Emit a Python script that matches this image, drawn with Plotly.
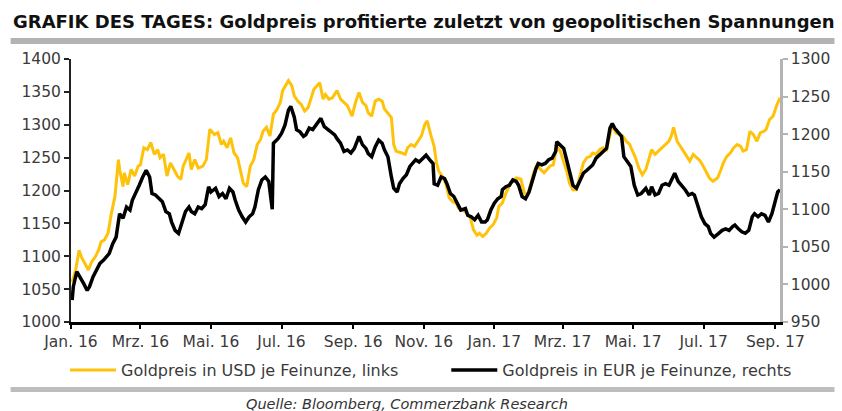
import plotly.graph_objects as go

# ---------------- data ----------------
usd_dates = [
    "2016-01-02","2016-01-05","2016-01-08","2016-01-10","2016-01-13","2016-01-16","2016-01-19","2016-01-22",
    "2016-01-25","2016-01-27","2016-01-30","2016-02-02","2016-02-05","2016-02-08","2016-02-11","2016-02-12",
    "2016-02-15","2016-02-16","2016-02-19","2016-02-22","2016-02-25","2016-02-28","2016-03-01","2016-03-04",
    "2016-03-07","2016-03-10","2016-03-13","2016-03-16","2016-03-18","2016-03-21","2016-03-24","2016-03-27",
    "2016-03-30","2016-04-02","2016-04-05","2016-04-07","2016-04-12","2016-04-14","2016-04-17","2016-04-20",
    "2016-04-24","2016-04-27","2016-04-30","2016-05-04","2016-05-07","2016-05-10","2016-05-12","2016-05-15",
    "2016-05-18","2016-05-21","2016-05-24","2016-05-27","2016-05-29","2016-06-01","2016-06-04","2016-06-07",
    "2016-06-10","2016-06-13","2016-06-15","2016-06-18","2016-06-21","2016-06-24","2016-06-27","2016-06-30",
    "2016-07-02","2016-07-07","2016-07-10","2016-07-12","2016-07-15","2016-07-18","2016-07-21","2016-07-24",
    "2016-07-27","2016-07-29","2016-08-03","2016-08-06","2016-08-08","2016-08-11","2016-08-14","2016-08-18",
    "2016-08-21","2016-08-24","2016-08-27","2016-08-31","2016-09-03","2016-09-06","2016-09-09","2016-09-12",
    "2016-09-14","2016-09-17","2016-09-20","2016-09-23","2016-09-26","2016-09-28","2016-10-01","2016-10-04",
    "2016-10-06","2016-10-08","2016-10-13","2016-10-16","2016-10-18","2016-10-21","2016-10-24","2016-10-27",
    "2016-10-30","2016-11-02","2016-11-04","2016-11-07","2016-11-10","2016-11-12","2016-11-14","2016-11-17",
    "2016-11-20","2016-11-23","2016-11-26","2016-11-29","2016-12-01","2016-12-04","2016-12-08","2016-12-11",
    "2016-12-14","2016-12-17","2016-12-19","2016-12-22","2016-12-25","2016-12-28","2016-12-31","2017-01-03",
    "2017-01-05","2017-01-08","2017-01-11","2017-01-15","2017-01-20","2017-01-24","2017-01-27","2017-01-30",
    "2017-02-01","2017-02-04","2017-02-07","2017-02-10","2017-02-13","2017-02-16","2017-02-18","2017-02-21",
    "2017-02-24","2017-02-27","2017-03-02","2017-03-05","2017-03-07","2017-03-10","2017-03-13","2017-03-16",
    "2017-03-19","2017-03-22","2017-03-25","2017-03-27","2017-03-30","2017-04-02","2017-04-05","2017-04-08",
    "2017-04-11","2017-04-13","2017-04-16","2017-04-19","2017-04-22","2017-04-25","2017-04-28","2017-04-30",
    "2017-05-03","2017-05-06","2017-05-09","2017-05-12","2017-05-15","2017-05-17","2017-05-20","2017-05-23",
    "2017-05-26","2017-05-29","2017-06-01","2017-06-03","2017-06-05","2017-06-08","2017-06-11","2017-06-13",
    "2017-06-16","2017-06-19","2017-06-22","2017-06-25","2017-06-28","2017-06-30","2017-07-03","2017-07-06",
    "2017-07-09","2017-07-13","2017-07-16","2017-07-18","2017-07-21","2017-07-24","2017-07-27","2017-07-30",
    "2017-08-02","2017-08-04","2017-08-07","2017-08-10","2017-08-13","2017-08-16","2017-08-19","2017-08-22",
    "2017-08-24","2017-08-27","2017-08-30","2017-09-02","2017-09-05",
]
usd_values = [
    1061,1079,1109,1099,1089,1079,1092,1099,
    1110,1122,1125,1135,1166,1191,1247,1232,
    1206,1227,1209,1232,1222,1237,1239,1265,
    1262,1273,1255,1262,1250,1255,1222,1242,
    1232,1222,1217,1237,1257,1232,1247,1234,
    1237,1247,1293,1285,1288,1270,1275,1265,
    1280,1257,1250,1227,1211,1206,1237,1247,
    1270,1278,1290,1296,1283,1316,1323,1334,
    1352,1367,1359,1344,1336,1331,1321,1326,
    1341,1354,1364,1339,1346,1339,1341,1352,
    1339,1334,1329,1313,1334,1349,1334,1329,
    1318,1313,1336,1339,1336,1324,1318,1311,
    1270,1260,1257,1255,1265,1270,1267,1275,
    1283,1301,1306,1285,1267,1242,1229,1222,
    1211,1189,1183,1181,1173,1171,1166,1160,
    1140,1132,1135,1130,1135,1143,1148,1158,
    1176,1181,1196,1211,1219,1217,1196,1194,
    1209,1227,1239,1232,1227,1234,1237,1239,
    1267,1260,1245,1227,1211,1201,1201,1222,
    1242,1250,1252,1257,1255,1262,1265,1262,
    1283,1301,1288,1285,1283,1275,1270,1262,
    1250,1234,1224,1232,1252,1262,1255,1260,
    1265,1270,1275,1283,1296,1275,1267,1260,
    1252,1245,1255,1250,1245,1239,1229,1219,
    1214,1219,1232,1242,1252,1257,1265,1270,
    1267,1260,1262,1290,1285,1275,1288,1290,
    1293,1308,1313,1329,1341,
]

eur_dates = [
    "2016-01-02","2016-01-03","2016-01-06","2016-01-09","2016-01-12","2016-01-15","2016-01-17","2016-01-20",
    "2016-01-23","2016-01-26","2016-01-29","2016-02-01","2016-02-03","2016-02-06","2016-02-09","2016-02-12",
    "2016-02-15","2016-02-18","2016-02-21","2016-02-23","2016-02-26","2016-02-29","2016-03-03","2016-03-06",
    "2016-03-09","2016-03-11","2016-03-14","2016-03-17","2016-03-20","2016-03-23","2016-03-26","2016-03-28",
    "2016-03-31","2016-04-03","2016-04-06","2016-04-09","2016-04-12","2016-04-14","2016-04-17","2016-04-20",
    "2016-04-23","2016-04-26","2016-04-29","2016-05-01","2016-05-05","2016-05-08","2016-05-11","2016-05-14",
    "2016-05-17","2016-05-20","2016-05-22","2016-05-25","2016-05-28","2016-05-31","2016-06-03","2016-06-06",
    "2016-06-08","2016-06-11","2016-06-14","2016-06-17","2016-06-20","2016-06-22","2016-06-23","2016-06-24",
    "2016-06-28","2016-07-01","2016-07-04","2016-07-07","2016-07-09","2016-07-12","2016-07-14","2016-07-17",
    "2016-07-20","2016-07-22","2016-07-25","2016-07-28","2016-07-31","2016-08-04","2016-08-07","2016-08-10",
    "2016-08-13","2016-08-16","2016-08-18","2016-08-21","2016-08-24","2016-08-27","2016-08-30","2016-09-02",
    "2016-09-06","2016-09-09","2016-09-12","2016-09-14","2016-09-17","2016-09-20","2016-09-23","2016-09-26",
    "2016-09-28","2016-10-01","2016-10-04","2016-10-06","2016-10-09","2016-10-11","2016-10-14","2016-10-17",
    "2016-10-20","2016-10-23","2016-10-25","2016-10-28","2016-10-31","2016-11-03","2016-11-06","2016-11-09",
    "2016-11-10","2016-11-13","2016-11-16","2016-11-19","2016-11-21","2016-11-24","2016-11-27","2016-11-30",
    "2016-12-03","2016-12-07","2016-12-09","2016-12-12","2016-12-15","2016-12-18","2016-12-21","2016-12-24",
    "2016-12-26","2016-12-29","2017-01-01","2017-01-04","2017-01-07","2017-01-08","2017-01-11","2017-01-14",
    "2017-01-17","2017-01-20","2017-01-22","2017-01-25","2017-01-28","2017-01-31","2017-02-03","2017-02-06",
    "2017-02-08","2017-02-11","2017-02-14","2017-02-17","2017-02-20","2017-02-23","2017-02-24","2017-02-27",
    "2017-03-02","2017-03-05","2017-03-07","2017-03-10","2017-03-13","2017-03-16","2017-03-19","2017-03-22",
    "2017-03-25","2017-03-27","2017-03-30","2017-04-02","2017-04-05","2017-04-08","2017-04-11","2017-04-13",
    "2017-04-15","2017-04-18","2017-04-21","2017-04-23","2017-04-26","2017-04-29","2017-05-02","2017-05-05",
    "2017-05-08","2017-05-12","2017-05-15","2017-05-17","2017-05-20","2017-05-23","2017-05-26","2017-05-29",
    "2017-06-01","2017-06-03","2017-06-06","2017-06-09","2017-06-12","2017-06-15","2017-06-18","2017-06-21",
    "2017-06-23","2017-06-26","2017-06-29","2017-07-02","2017-07-05","2017-07-07","2017-07-10","2017-07-14",
    "2017-07-17","2017-07-20","2017-07-23","2017-07-26","2017-07-28","2017-07-31","2017-08-03","2017-08-06",
    "2017-08-09","2017-08-12","2017-08-14","2017-08-17","2017-08-20","2017-08-23","2017-08-26","2017-08-29",
    "2017-09-01","2017-09-03","2017-09-05",
]
eur_values = [
    979,997,1017,1010,1001,992,997,1010,
    1019,1028,1032,1037,1041,1054,1063,1094,
    1088,1103,1099,1112,1121,1132,1143,1152,
    1143,1121,1119,1114,1110,1097,1094,1083,
    1072,1068,1081,1097,1103,1097,1094,1103,
    1101,1106,1130,1123,1128,1117,1121,1114,
    1128,1123,1112,1099,1090,1083,1090,1094,
    1103,1126,1139,1143,1137,1115,1100,1188,
    1194,1201,1212,1232,1237,1223,1206,1203,
    1197,1199,1208,1206,1212,1221,1210,1206,
    1203,1199,1194,1188,1177,1179,1175,1181,
    1197,1186,1181,1174,1170,1183,1192,1188,
    1179,1170,1143,1128,1123,1134,1141,1146,
    1157,1163,1166,1163,1168,1172,1166,1161,
    1134,1132,1143,1141,1134,1121,1117,1108,
    1099,1101,1092,1090,1086,1092,1083,1083,
    1086,1099,1108,1114,1117,1126,1130,1132,
    1139,1137,1132,1117,1114,1123,1139,1154,
    1161,1159,1161,1166,1168,1177,1190,1186,
    1181,1163,1152,1132,1128,1139,1148,1152,
    1157,1159,1168,1172,1177,1181,1208,1214,
    1208,1203,1197,1170,1163,1157,1132,1119,
    1121,1128,1119,1130,1119,1121,1132,1134,
    1132,1139,1148,1137,1132,1126,1119,1121,
    1119,1103,1090,1081,1077,1068,1063,1068,
    1072,1074,1072,1077,1079,1074,1070,1068,
    1072,1090,1094,1090,1094,1092,1083,1094,
    1112,1123,1126,
]

tick_dates = ["2016-01-01","2016-03-01","2016-05-01","2016-07-01","2016-09-01","2016-11-01",
              "2017-01-01","2017-03-01","2017-05-01","2017-07-01","2017-09-01"]
tick_labels = ["Jan. 16","Mrz. 16","Mai. 16","Jul. 16","Sep. 16","Nov. 16",
               "Jan. 17","Mrz. 17","Mai. 17","Jul. 17","Sep. 17"]

title_text = "GRAFIK DES TAGES: Goldpreis profitierte zuletzt von geopolitischen Spannungen"
source_text = "Quelle: Bloomberg, Commerzbank Research"
usd_name = "Goldpreis in USD je Feinunze, links"
eur_name = "Goldpreis in EUR je Feinunze, rechts"

# ---------------- layout helpers ----------------
W, H = 842, 411
ML, MR, MT, MB = 71, 55, 59, 89
PW, PH = W - ML - MR, H - MT - MB


def px(x):
    return (x - ML) / PW


def py(y):
    return (H - MB - y) / PH


TICK_FONT = dict(family="DejaVu Sans", size=15.5, color="#3a3a3a")
LEG_FONT = dict(family="DejaVu Sans", size=16, color="#3a3a3a")
GOLD = "#FFC20A"

fig = go.Figure()
fig.add_trace(go.Scatter(x=usd_dates, y=usd_values, name=usd_name, mode="lines",
                         line=dict(color=GOLD, width=3), yaxis="y", legend="legend"))
fig.add_trace(go.Scatter(x=eur_dates, y=eur_values, name=eur_name, mode="lines",
                         line=dict(color="#000000", width=3.5), yaxis="y2", legend="legend2"))

fig.update_layout(
    width=W, height=H,
    margin=dict(l=ML, r=MR, t=MT, b=MB),
    paper_bgcolor="white", plot_bgcolor="white",
    xaxis=dict(type="date", range=["2016-01-01", "2017-09-05"],
               tickvals=tick_dates, ticktext=tick_labels,
               ticks="outside", ticklen=4, tickwidth=2, tickcolor="#000",
               showline=True, linecolor="#000", linewidth=2.5,
               showgrid=False, zeroline=False, tickfont=TICK_FONT),
    yaxis=dict(range=[1000, 1400], dtick=50, tick0=1000,
               ticks="outside", ticklen=5, tickwidth=1.5, tickcolor="#222",
               showline=True, linecolor="#222", linewidth=2,
               showgrid=False, zeroline=False, tickfont=TICK_FONT),
    yaxis2=dict(range=[950, 1300], dtick=50, tick0=950, overlaying="y", side="right",
                ticks="outside", ticklen=5, tickwidth=1.5, tickcolor="#b4b4b4",
                showline=True, linecolor="#b4b4b4", linewidth=2.5,
                showgrid=False, zeroline=False, tickfont=TICK_FONT),
    showlegend=True,
    legend=dict(orientation="h", x=px(65), xanchor="left", y=py(370), yanchor="middle",
                font=LEG_FONT, itemwidth=46, bgcolor="rgba(0,0,0,0)"),
    legend2=dict(orientation="h", x=px(450), xanchor="left", y=py(370), yanchor="middle",
                 font=LEG_FONT, itemwidth=46, bgcolor="rgba(0,0,0,0)"),
    shapes=[
        dict(type="rect", xref="paper", yref="paper", x0=px(10), x1=px(842), y0=py(44), y1=py(38),
             fillcolor="#b3b3b3", line=dict(width=0), layer="below"),
        dict(type="rect", xref="paper", yref="paper", x0=px(10), x1=px(842), y0=py(392), y1=py(387),
             fillcolor="#bdbdbd", line=dict(width=0), layer="below"),
    ],
    annotations=[
        dict(text="<b>" + title_text + "</b>", xref="paper", yref="paper", x=px(10), y=py(21),
             xanchor="left", yanchor="middle", showarrow=False,
             font=dict(family="DejaVu Sans", size=18, color="#111")),
        dict(text="<i>" + source_text + "</i>", xref="paper", yref="paper", x=px(410), y=py(404),
             xanchor="center", yanchor="middle", showarrow=False,
             font=dict(family="DejaVu Sans", size=14.5, color="#333")),
    ],
)

fig.write_html("out.html", config={"displayModeBar": False},
               post_script="document.body.style.margin='0';")
